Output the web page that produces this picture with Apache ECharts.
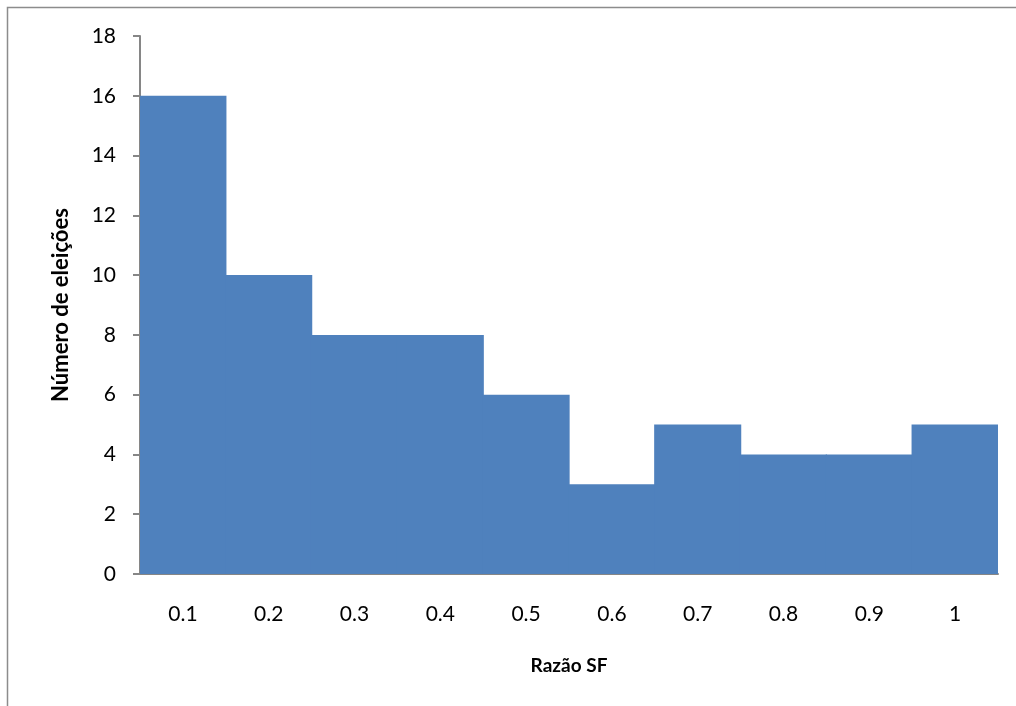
<!DOCTYPE html>
<html><head><meta charset="utf-8">
<script src="https://cdn.jsdelivr.net/npm/echarts@6/dist/echarts.min.js"></script>
<style>html,body{margin:0;padding:0;background:#fff}#c{width:1016px;height:706px}</style>
</head><body><div id="c"></div>
<script>
const categories = ['0.1','0.2','0.3','0.4','0.5','0.6','0.7','0.8','0.9','1'];
const counts = [16,10,8,8,6,3,5,4,4,5];
const xTitle = 'Razão SF';
const yTitle = 'Número de eleições';
const FONT = 'Lato';
const chart = echarts.init(document.getElementById('c'), null, {renderer:'canvas'});
chart.setOption({
  animation:false,
  backgroundColor:'#fff',
  textStyle:{fontFamily:FONT},
  graphic:[{type:'rect',shape:{x:7.5,y:7.5,width:1020,height:720},style:{fill:'none',stroke:'#8c8c8c',lineWidth:1.5},silent:true}],
  grid:{left:140,right:18,top:36,bottom:132},
  xAxis:{type:'category',data:categories,
    axisLine:{lineStyle:{color:'#868686',width:2}},
    axisTick:{show:false},
    axisLabel:{color:'#000',fontSize:21,margin:30,fontFamily:FONT},
    name:xTitle,nameLocation:'middle',nameGap:82,
    nameTextStyle:{color:'#000',fontSize:19,fontWeight:'bold',fontFamily:FONT}},
  yAxis:{type:'value',min:0,max:18,interval:2,
    axisLine:{show:true,lineStyle:{color:'#868686',width:2}},
    axisTick:{show:true,length:7,lineStyle:{color:'#868686',width:2}},
    splitLine:{show:false},
    axisLabel:{color:'#000',fontSize:21,margin:24,fontFamily:FONT},
    name:yTitle,nameLocation:'middle',nameGap:68,
    nameTextStyle:{color:'#000',fontSize:22,fontWeight:'bold',fontFamily:FONT}},
  series:[{type:'bar',data:counts,barWidth:'101.5%',
    itemStyle:{color:'#4F81BD'}}]
});
</script></body></html>
